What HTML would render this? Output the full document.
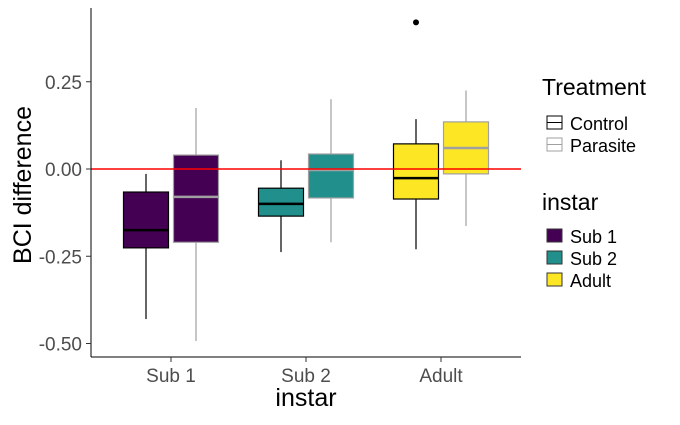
<!DOCTYPE html>
<html><head><meta charset="utf-8"><style>
body{margin:0;background:#fff;font-family:"Liberation Sans",Arial,sans-serif;}
svg text{font-family:"Liberation Sans",Arial,sans-serif;}
</style></head><body>
<svg id="chart" width="680" height="420" xmlns="http://www.w3.org/2000/svg">
<g id="marks"></g>
<line x1="91" y1="8" x2="91" y2="357" stroke="#000" stroke-width="1"/>
<line x1="91" y1="357" x2="521" y2="357" stroke="#000" stroke-width="1"/>
<g id="yticks"></g>
<g id="xticks"></g>
<text x="306" y="406" font-size="25" text-anchor="middle">instar</text>
<text transform="translate(31,185) rotate(-90)" font-size="25" text-anchor="middle">BCI difference</text>
<g>
<text x="542" y="95" font-size="23">Treatment</text>
<g><rect x="547" y="116" width="15" height="13" fill="#fff" stroke="#000"/><line x1="547" y1="122.5" x2="562" y2="122.5" stroke="#000"/><text x="570" y="130" font-size="18">Control</text></g>
<g><rect x="547" y="138" width="15" height="13" fill="#fff" stroke="#a0a0a0"/><line x1="547" y1="144.5" x2="562" y2="144.5" stroke="#a0a0a0"/><text x="570" y="152" font-size="18">Parasite</text></g>
</g>
<g>
<text x="542" y="210" font-size="23">instar</text>
<g><rect x="547" y="229" width="15" height="13" fill="#440154" stroke="#333"/><text x="570" y="243" font-size="18">Sub 1</text></g>
<g><rect x="547" y="251" width="15" height="13" fill="#21908c" stroke="#333"/><text x="570" y="265" font-size="18">Sub 2</text></g>
<g><rect x="547" y="273" width="15" height="13" fill="#fde725" stroke="#333"/><text x="570" y="287" font-size="18">Adult</text></g>
</g>
</svg>
<script>
const categories=["Sub 1","Sub 2","Adult"];
const fills=["#440154","#21908c","#fde725"];
const yTicks=[0.25,0,-0.25,-0.5];
const yTickLabels=["0.25","0.00","-0.25","-0.50"];
const controlMin=[-0.43,-0.238,-0.23];
const controlQ1=[-0.226,-0.135,-0.086];
const controlMed=[-0.175,-0.10,-0.026];
const controlQ3=[-0.066,-0.055,0.072];
const controlMax=[-0.014,0.025,0.143];
const parasiteMin=[-0.493,-0.21,-0.163];
const parasiteQ1=[-0.21,-0.083,-0.014];
const parasiteMed=[-0.08,-0.003,0.06];
const parasiteQ3=[0.04,0.043,0.135];
const parasiteMax=[0.175,0.2,0.225];
const outlierCat=[2];
const outlierVal=[0.42];

const NS="http://www.w3.org/2000/svg";
const y=v=>169-v*349;
const x=i=>171+i*135;
function mk(tag,attrs,parent){const e=document.createElementNS(NS,tag);for(const k in attrs)e.setAttribute(k,attrs[k]);parent.appendChild(e);return e;}
const marks=document.getElementById('marks');
const yt=document.getElementById('yticks');
yTicks.forEach((v,i)=>{
  const l=mk('line',{x1:86,x2:91,y1:y(v),y2:y(v),stroke:'#333'},yt);
  
  
  const t=mk('text',{x:82,y:y(v)+7,'font-size':19,'text-anchor':'end',fill:'#4d4d4d'},yt);
  t.textContent=yTickLabels[i];
  
  
});
const xt=document.getElementById('xticks');
categories.forEach((c,i)=>{
  const l=mk('line',{x1:x(i),x2:x(i),y1:357,y2:362,stroke:'#333'},xt);
  
  
  const t=mk('text',{x:x(i),y:382,'font-size':19,'text-anchor':'middle',fill:'#4d4d4d'},xt);
  t.textContent=c;
  
  
});
function box(i,off,mn,q1,md,q3,mx,stroke,name){
  const g=mk('g',{},marks);
  
  
  const cx=x(i)+off,w=45;
  mk('line',{x1:cx,x2:cx,y1:y(mx),y2:y(q3),stroke:stroke,'stroke-width':1.2},g);
  mk('line',{x1:cx,x2:cx,y1:y(q1),y2:y(mn),stroke:stroke,'stroke-width':1.2},g);
  mk('rect',{x:cx-w/2,y:y(q3),width:w,height:y(q1)-y(q3),fill:fills[i],stroke:stroke,'stroke-width':1.2},g);
  mk('line',{x1:cx-w/2,x2:cx+w/2,y1:y(md),y2:y(md),stroke:stroke,'stroke-width':2.5},g);
}
categories.forEach((c,i)=>{
  box(i,-25,controlMin[i],controlQ1[i],controlMed[i],controlQ3[i],controlMax[i],'#000','box-control-'+i);
  box(i,25,parasiteMin[i],parasiteQ1[i],parasiteMed[i],parasiteQ3[i],parasiteMax[i],'#a0a0a0','box-parasite-'+i);
});
outlierCat.forEach((ci,k)=>{
  const c=mk('circle',{cx:x(ci)-25,cy:y(outlierVal[k]),r:3,fill:'#000'},marks);
  
  
});
const ref=mk('line',{x1:91,x2:521,y1:y(0),y2:y(0),stroke:'#ff0000','stroke-width':1.4},marks);


</script>
</body></html>
